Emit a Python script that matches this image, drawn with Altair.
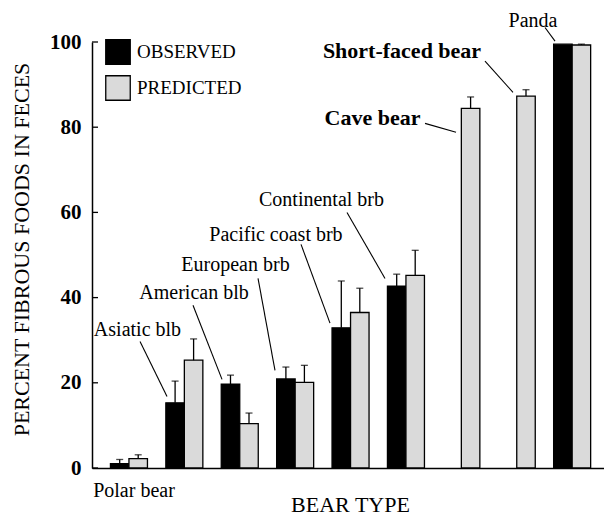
import altair as alt
import pandas as pd

# ---- data ----
categories = ["Polar bear", "Asiatic blb", "American blb", "European brb",
              "Pacific coast brb", "Continental brb", "Cave bear",
              "Short-faced bear", "Panda"]
observed     = [1.0, 15.3, 19.7, 20.9, 32.9, 42.7, None, None, 99.5]
observed_err = [2.0, 20.4, 21.8, 23.7, 43.9, 45.5, None, None, None]
predicted     = [2.2, 25.3, 10.4, 20.1, 36.5, 45.2, 84.4, 87.3, 99.3]
predicted_err = [3.1, 30.3, 12.9, 24.1, 42.2, 51.1, 87.1, 88.8, 99.5]
series = ["OBSERVED", "PREDICTED"]
y_ticks = [0, 20, 40, 60, 80, 100]

# annotation labels: (text, x in group units, y in data units, bold)
ann_text  = ["Polar bear", "Asiatic blb", "American blb", "European brb",
             "Pacific coast brb", "Continental brb", "Cave bear",
             "Short-faced bear", "Panda"]
ann_x     = [0.09, 0.153, 1.173, 1.922, 2.653, 3.475, 4.395, 4.928, 7.292]
ann_y     = [-5.5, 32.3, 41.0, 47.6, 54.6, 62.8, 82.1, 98.0, 105.0]
ann_bold  = [False, False, False, False, False, False, True, True, False]
# leader lines
lead_x1 = [0.199, 1.155, 2.329, 3.105, 3.935, 5.343, 6.426, 7.509]
lead_y1 = [29.7, 38.2, 44.5, 52.5, 60.0, 80.9, 95.5, 103.4]
lead_x2 = [0.686, 1.679, 2.635, 3.628, 4.621, 5.903, 6.931, 7.690]
lead_y2 = [16.8, 20.8, 22.9, 34.0, 44.5, 78.8, 88.2, 100.2]

# ---- tables ----
rows = []
for c, o, oe, p, pe in zip(categories, observed, observed_err, predicted, predicted_err):
    if o is not None:
        rows.append({"bear": c, "series": "OBSERVED", "value": o, "err": oe})
    rows.append({"bear": c, "series": "PREDICTED", "value": p, "err": pe})
df = pd.DataFrame(rows)
df_err = df.dropna(subset=["err"])

ann = pd.DataFrame({"text": ann_text, "x": ann_x, "y": ann_y, "bold": ann_bold})
lead = pd.DataFrame({"x1": lead_x1, "y1": lead_y1, "x2": lead_x2, "y2": lead_y2})
ticks = pd.DataFrame({"t": y_ticks})

SERIF = "Liberation Serif"

x_band = alt.X("bear:N", sort=categories,
               scale=alt.Scale(domain=categories, paddingInner=0,
                               paddingOuter=0.121, align=0.69),
               axis=alt.Axis(labels=False, ticks=False, domain=True,
                             domainColor="black", domainWidth=1.5,
                             title="BEAR TYPE", titleFont=SERIF,
                             titleFontSize=22, titleFontWeight="normal",
                             titleColor="black", titleX=258, titleY=43,
                             titleAlign="center", titleBaseline="alphabetic"))
x_off = alt.XOffset("series:N",
                    scale=alt.Scale(domain=series, paddingInner=0, paddingOuter=0.497))
y_scale = alt.Scale(domain=[0, 100], nice=False, zero=True)
y_enc = alt.Y("value:Q", scale=y_scale,
              axis=alt.Axis(values=y_ticks, ticks=False, grid=False,
                            domainColor="black", domainWidth=1.5,
                            labelFont=SERIF, labelFontSize=21,
                            labelFontWeight="bold", labelColor="black",
                            labelPadding=11,
                            title="PERCENT FIBROUS FOODS IN FECES",
                            titleFont=SERIF, titleFontSize=22,
                            titleFontWeight="normal", titleColor="black",
                            titleAngle=270, titleX=-71, titleY=207,
                            titleAlign="center", titleBaseline="middle"))

bars = alt.Chart(df).mark_bar(stroke="black", strokeWidth=1.3).encode(
    x=x_band, xOffset=x_off, y=y_enc,
    color=alt.Color("series:N",
                    scale=alt.Scale(domain=series, range=["black", "#dadada"]),
                    legend=alt.Legend(orient="none", legendX=13, legendY=-3,
                                      title=None, symbolType="square",
                                      symbolSize=600, symbolStrokeColor="black",
                                      symbolStrokeWidth=1.3, labelFont=SERIF,
                                      labelFontSize=19, labelColor="black",
                                      labelOffset=6, rowPadding=6, padding=0))
)

err_rule = alt.Chart(df_err).mark_rule(color="black", strokeWidth=1.3).encode(
    x=alt.X("bear:N", sort=categories), xOffset=alt.XOffset("series:N"),
    y=alt.Y("value:Q"), y2="err:Q")
err_cap = alt.Chart(df_err).mark_tick(color="black", size=7, thickness=1.3).encode(
    x=alt.X("bear:N", sort=categories), xOffset=alt.XOffset("series:N"),
    y=alt.Y("err:Q"))

tick_marks = alt.Chart(ticks).mark_rule(color="black", strokeWidth=1.3).encode(
    y=alt.Y("t:Q"), x=alt.value(0), x2=alt.value(6))

xq = alt.Scale(domain=[-0.668, 8.574], nice=False, zero=False)
lead_lines = alt.Chart(lead).mark_rule(color="black", strokeWidth=1.1).encode(
    x=alt.X("x1:Q", scale=xq, axis=None), x2="x2:Q",
    y=alt.Y("y1:Q"), y2="y2:Q")
txt_reg = alt.Chart(ann).transform_filter("!datum.bold").mark_text(
    font=SERIF, fontSize=20, color="black", baseline="middle", align="center"
).encode(x=alt.X("x:Q", scale=xq, axis=None), y=alt.Y("y:Q"), text="text:N")
txt_bold = alt.Chart(ann).transform_filter("datum.bold").mark_text(
    font=SERIF, fontSize=22, fontWeight="bold", color="black",
    baseline="middle", align="center"
).encode(x=alt.X("x:Q", scale=xq, axis=None), y=alt.Y("y:Q"), text="text:N")

base = alt.layer(bars, err_rule, err_cap, tick_marks)
annot = alt.layer(lead_lines, txt_reg, txt_bold)

chart = alt.layer(base, annot).resolve_scale(x="independent").properties(
    width=512, height=426,
    autosize=alt.AutoSizeParams(type="none"),
    padding={"left": 84, "top": 34, "right": 0, "bottom": 48},
    background="white",
).configure_view(stroke=None)

chart.save("out.html", embed_options={"renderer": "svg", "actions": False})
